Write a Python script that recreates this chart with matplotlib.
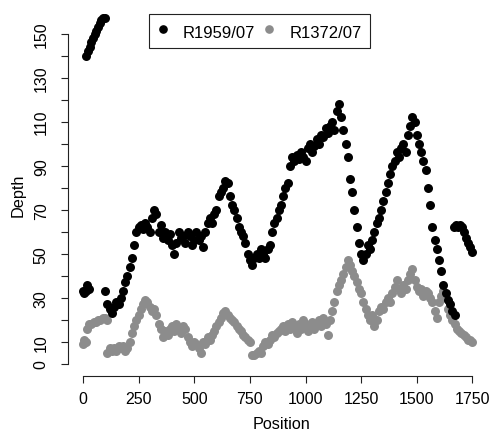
import matplotlib
matplotlib.use("Agg")
import matplotlib.pyplot as plt
from matplotlib.lines import Line2D

# ----------- data -----------

# R1959/07: a few short pieces plus the main run sampled every 10 positions
black_lo_pos = [0, 6, 12, 20, 26]
black_lo_depth = [33, 32, 33, 36, 34]

black_hi_pos = [15, 22, 30, 38, 45, 52, 60, 68, 75, 82, 90, 98]
black_hi_depth = [140, 142, 144, 146, 148, 150, 151, 153, 155, 156, 157, 157]

black_main_pos = list(range(100, 1680, 10))
black_main_depth = [
    33, 27, 25, 23, 26, 28, 27, 30, 33, 37,
    40, 44, 48, 54, 60, 62, 63, 61, 64, 62,
    60, 66, 70, 68, 60, 63, 57, 60, 56, 59,
    54, 50, 55, 60, 57, 58, 55, 60, 58, 54,
    56, 60, 56, 58, 53, 60, 64, 66, 64, 68,
    70, 76, 78, 80, 83, 82, 76, 72, 70, 66,
    62, 60, 58, 55, 50, 47, 45, 48, 50, 48,
    52, 50, 48, 52, 54, 60, 64, 66, 70, 72,
    76, 80, 82, 90, 94, 92, 95, 93, 96, 94,
    92, 98, 100, 96, 99, 102, 100, 104, 103, 107,
    105, 108, 110, 106, 115, 118, 112, 106, 100, 94,
    84, 78, 70, 62, 55, 50, 47, 50, 54, 52,
    56, 60, 64, 66, 70, 74, 78, 82, 86, 90,
    92, 96, 94, 98, 100, 96, 104, 108, 112, 110,
    104, 100, 96, 92, 88, 80, 72, 62, 56, 52,
    47, 42, 36, 32, 29, 27, 24, 22,
]

black_tail_pos = [1665, 1675, 1685, 1695, 1705, 1712, 1720, 1730, 1740, 1748]
black_tail_depth = [62, 63, 62, 63, 62, 60, 57, 55, 53, 51]

# R1372/07
grey_head_pos = [0, 6, 12, 20, 28, 38, 48, 58, 68, 78, 88, 98, 106]
grey_head_depth = [9, 11, 10, 16, 18, 18, 19, 19, 20, 20, 21, 21, 20]

grey_main_pos = list(range(110, 1760, 10))
grey_main_depth = [
    5, 7, 6, 7, 6, 8, 7, 8, 6,
    7, 10, 14, 17, 20, 22, 25, 27, 29, 28,
    26, 24, 25, 22, 18, 16, 12, 15, 13, 16,
    17, 15, 18, 16, 14, 17, 16, 12, 10, 8,
    10, 9, 7, 5, 10, 9, 12, 11, 13, 15,
    17, 19, 21, 23, 24, 22, 21, 20, 19, 17,
    16, 15, 13, 12, 11, 10, 4, 4, 5, 6,
    5, 8, 10, 9, 11, 13, 12, 14, 15, 16,
    17, 15, 18, 16, 19, 17, 14, 18, 16, 20,
    18, 15, 17, 19, 16, 18, 20, 17, 21, 18,
    13, 20, 24, 28, 33, 36, 38, 41, 44, 47,
    45, 42, 40, 37, 34, 32, 28, 25, 22, 20,
    22, 17, 20, 24, 26, 25, 28, 30, 28, 32,
    35, 38, 34, 32, 36, 34, 38, 41, 43, 38,
    35, 33, 34, 31, 33, 32, 30, 28, 24, 21,
    28, 31, 33, 30, 25, 22, 20, 18, 16, 15,
    14, 13, 12, 11, 11, 10,
]

x_ticks = [0, 250, 500, 750, 1000, 1250, 1500, 1750]
y_ticks = list(range(0, 151, 10))
y_labels = ["0", "10", "", "30", "", "50", "", "70", "", "90", "", "110", "", "130", "", "150"]

names = ["R1959/07", "R1372/07"]
BLACK = "#000000"
GREY = "#8c8c8c"

# ----------- plot -----------

plt.rcParams["font.family"] = ["Liberation Sans", "DejaVu Sans"]

fig = plt.figure(figsize=(4.91, 4.31), dpi=100)
ax = fig.add_axes([67.6 / 491, 54.3 / 431, 420.4 / 491, 373.7 / 431])

dot = 42
ax.scatter(grey_head_pos, grey_head_depth, s=dot, c=GREY, linewidths=0)
ax.scatter(grey_main_pos, grey_main_depth, s=dot, c=GREY, linewidths=0)
for p, d in [(black_lo_pos, black_lo_depth), (black_hi_pos, black_hi_depth),
             (black_main_pos, black_main_depth), (black_tail_pos, black_tail_depth)]:
    ax.scatter(p, d, s=dot, c=BLACK, linewidths=0)

ax.set_xlim(-69, 1820)
ax.set_ylim(-5.45, 164.4)

for side in ["top", "right"]:
    ax.spines[side].set_visible(False)
ax.spines["left"].set_bounds(0, 150)
ax.spines["bottom"].set_bounds(0, 1750)
for side in ["left", "bottom"]:
    ax.spines[side].set_linewidth(0.8)
    ax.spines[side].set_color("#222222")

ax.set_xticks(x_ticks)
ax.set_yticks(y_ticks)
ax.set_yticklabels(y_labels)
ax.tick_params(direction="out", length=5, width=0.8, color="#222222", labelsize=11.5)
ax.tick_params(axis="x", pad=6)
ax.tick_params(axis="y", pad=8.5, labelrotation=90)
for lbl in ax.get_yticklabels():
    lbl.set_va("center")

fig.text(281 / 491, 1 - 425 / 431, "Position", ha="center", va="center", fontsize=11.7)
fig.text(18 / 491, 1 - 195 / 431, "Depth", ha="center", va="center", rotation=90, fontsize=11.7)

handles = [Line2D([], [], ls="none", marker="o", ms=5.2, mfc=BLACK, mec=BLACK),
           Line2D([], [], ls="none", marker="o", ms=5.2, mfc=GREY, mec=GREY)]
leg = fig.legend(handles, names, ncol=2, loc="upper left",
                 bbox_to_anchor=(149 / 491, 1 - 15 / 431), borderaxespad=0,
                 fontsize=12, frameon=True, fancybox=False, framealpha=1,
                 edgecolor="#222222", borderpad=0.5, handlelength=0.7,
                 handleheight=1.22, handletextpad=0.84, columnspacing=0.49)
leg.get_frame().set_linewidth(0.8)

fig.savefig("out.png", dpi=100)
